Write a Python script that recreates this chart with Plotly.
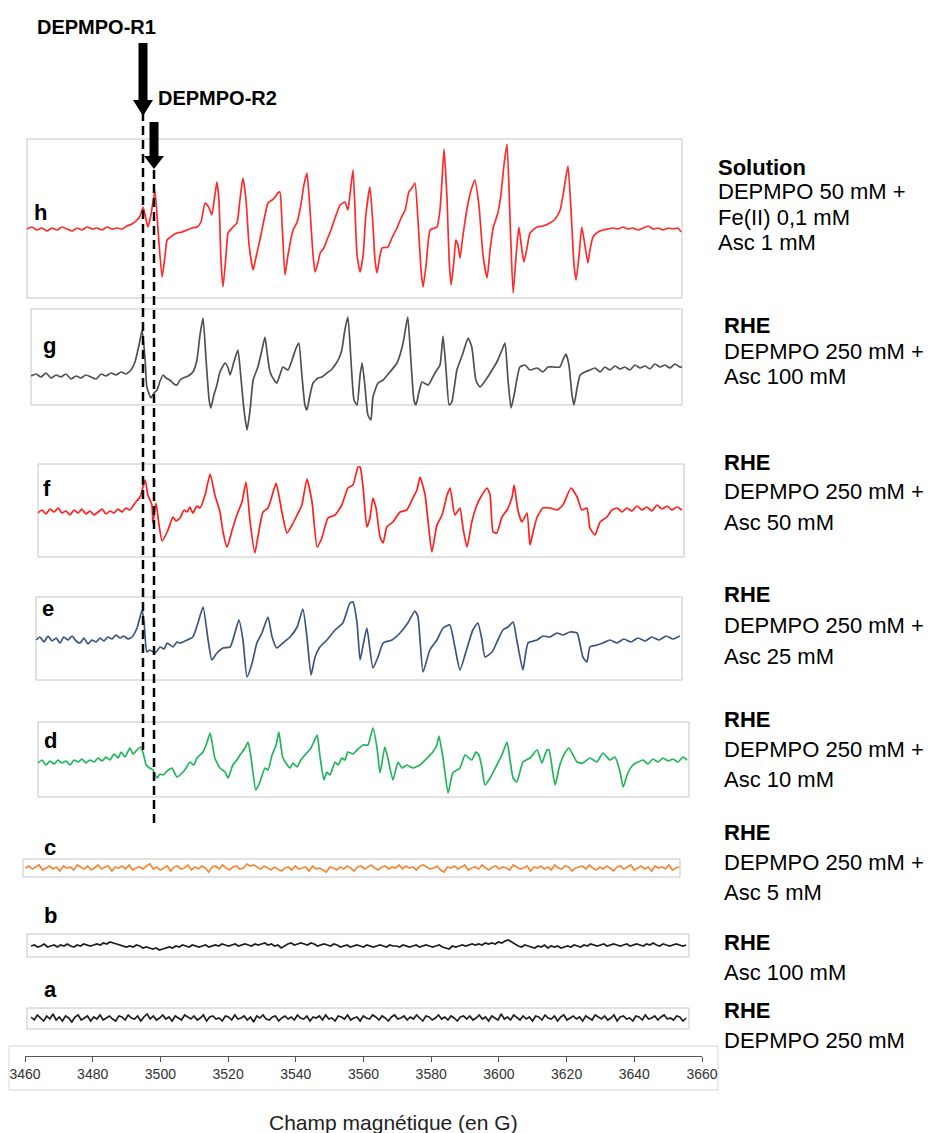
import numpy as np
import plotly.graph_objects as go

# ---- spectra (field in G, signal in arbitrary units) ----
h_field = [3460.3, 3461.8, 3463.2, 3464.7, 3466.2, 3467.7, 3469.2, 3470.6, 3472.1, 3473.6, 3475.1, 3476.5, 3478.0,
           3479.5, 3481.0, 3482.5, 3483.9, 3485.4, 3486.9, 3488.4, 3489.8, 3491.3, 3492.5, 3493.7, 3494.6, 3495.5,
           3496.0, 3496.9, 3498.1, 3499.0, 3500.2, 3501.1, 3501.7, 3503.1, 3504.6, 3506.1, 3507.6, 3509.0, 3510.5,
           3511.7, 3512.9, 3514.1, 3514.9, 3515.8, 3516.4, 3517.0, 3517.6, 3518.2, 3519.1, 3519.7, 3520.9, 3522.3,
           3523.2, 3524.1, 3525.0, 3525.9, 3527.1, 3527.9, 3529.1, 3530.3, 3531.5, 3532.7, 3533.6, 3534.4, 3535.0,
           3535.6, 3536.5, 3537.4, 3538.9, 3540.1, 3541.2, 3542.1, 3543.0, 3543.9, 3544.8, 3545.4, 3546.3, 3546.9,
           3548.0, 3548.9, 3550.1, 3551.3, 3552.8, 3554.2, 3555.1, 3555.7, 3556.6, 3557.2, 3557.8, 3558.7, 3559.6,
           3560.4, 3561.6, 3562.5, 3563.1, 3563.7, 3564.6, 3565.2, 3566.9, 3568.1, 3569.6, 3570.8, 3572.0, 3573.1,
           3574.0, 3574.9, 3575.8, 3576.7, 3577.3, 3578.2, 3579.4, 3581.4, 3582.3, 3582.9, 3583.5, 3584.4, 3585.0,
           3585.6, 3586.4, 3587.0, 3587.6, 3588.2, 3589.1, 3590.6, 3591.5, 3592.6, 3593.8, 3595.0, 3596.2, 3597.1,
           3598.0, 3599.4, 3600.3, 3601.2, 3602.1, 3603.0, 3603.9, 3604.8, 3605.6, 3606.5, 3607.1, 3608.0, 3608.9,
           3611.0, 3612.7, 3614.8, 3616.3, 3617.8, 3618.9, 3620.1, 3621.0, 3621.9, 3622.5, 3623.4, 3624.2, 3625.1,
           3626.0, 3626.6, 3627.5, 3629.0, 3630.5, 3631.9, 3633.4, 3634.9, 3636.4, 3637.8, 3639.3, 3640.8, 3642.3,
           3643.8, 3645.2, 3646.7, 3648.2, 3649.7, 3651.1, 3652.6, 3653.5]
h_signal = [0, 2, -1, 1, -2, 1, -1, 2, 0, -2, 1, -1, 2, 0, 1, -1, 2, 0, 1, 0, 3, 5, 8, 13, 22, 9, 2, 14, 38, -1,
            -48, -26, -11, -7, -4, -3, -1, 1, 2, 7, 26, 21, 14, 34, 47, 29, -31, -58, -26, -4, 1, 6, 29, 51, 29, -16,
            -41, -29, -11, 9, 26, 29, 32, 36, 37, 9, -46, -26, -1, 7, 24, 44, 56, 19, -26, -43, -33, -24, -19, -11,
            -1, 11, 24, 27, 19, 34, 59, 19, -26, -43, -26, 14, 42, 4, -31, -44, -26, -19, -18, -9, 1, 11, 19, 37, 41,
            46, 9, -41, -58, -36, -1, 2, 19, 49, 80, 29, -31, -56, -33, -11, -16, -29, -6, 26, 39, 49, 24, -26, -49,
            -21, 1, 16, 34, 64, 85, 9, -64, -26, 2, -21, -33, -19, -4, 2, 3, 6, 10, 19, 39, 63, 19, -36, -51, -26, 2,
            -16, -34, -21, -8, -3, -1, 0, 1, 0, 2, 0, 1, -1, 1, 3, 0, 1, -1, 1, 0, 1, -3]

g_field = [3461.5, 3463.0, 3464.4, 3465.9, 3467.4, 3468.9, 3470.3, 3471.8, 3473.3, 3474.8, 3476.2, 3477.7, 3479.2,
           3480.7, 3482.2, 3483.6, 3485.1, 3486.6, 3488.1, 3489.5, 3491.0, 3492.2, 3493.4, 3494.3, 3495.2, 3495.7,
           3496.9, 3497.8, 3498.7, 3499.6, 3500.5, 3501.4, 3502.5, 3503.7, 3504.6, 3505.5, 3506.4, 3507.9, 3509.3,
           3510.5, 3511.4, 3512.3, 3513.2, 3514.1, 3514.6, 3515.5, 3516.4, 3517.3, 3518.8, 3519.7, 3520.3, 3521.4,
           3522.6, 3523.5, 3524.4, 3525.3, 3526.2, 3527.1, 3528.5, 3529.7, 3530.6, 3531.2, 3532.1, 3533.3, 3534.1,
           3535.0, 3535.9, 3537.4, 3538.6, 3539.8, 3540.6, 3541.5, 3542.4, 3543.0, 3543.9, 3544.8, 3546.3, 3547.4,
           3548.9, 3550.1, 3551.3, 3552.5, 3553.3, 3554.2, 3555.1, 3556.0, 3556.9, 3557.8, 3558.7, 3559.3, 3560.1,
           3561.0, 3561.9, 3562.5, 3564.0, 3565.5, 3567.5, 3569.6, 3571.4, 3572.3, 3572.8, 3573.7, 3574.6, 3575.2,
           3576.1, 3577.0, 3578.8, 3580.8, 3582.3, 3583.2, 3584.1, 3585.0, 3585.8, 3587.3, 3589.1, 3590.6, 3591.7,
           3592.9, 3594.1, 3596.2, 3597.7, 3599.1, 3600.6, 3601.5, 3602.4, 3603.3, 3604.2, 3605.9, 3607.4, 3608.9,
           3611.0, 3612.7, 3614.2, 3615.7, 3617.7, 3618.6, 3619.5, 3620.4, 3621.3, 3621.9, 3622.8, 3623.7, 3625.1,
           3626.6, 3628.1, 3629.6, 3631.0, 3632.5, 3634.0, 3635.5, 3636.9, 3638.4, 3639.9, 3641.4, 3642.9, 3644.3,
           3645.8, 3647.3, 3648.8, 3650.2, 3651.7, 3653.2, 3653.8]
g_signal = [0, 2, -1, 3, -2, 1, -1, 2, -3, 0, -2, 1, -1, -3, 2, 0, 3, 1, 4, 2, 6, 14, 31, 46, 16, -11, -22, -17, -14,
            -5, 1, -2, -4, -8, -9, -4, -2, 0, 4, 16, 41, 58, 16, -24, -32, -19, -9, 4, 13, 8, 1, 14, 26, -2, -34, -54,
            -34, -4, 9, 26, 39, 24, 4, -4, -7, 1, 9, 6, 16, 28, 33, 1, -29, -34, -19, -7, -2, -1, 3, 6, 11, 18, 26, 46,
            59, 16, -24, -29, 1, 13, -9, -39, -44, -21, -7, -4, 4, 13, 33, 51, 59, 16, -24, -29, -16, -6, -9, 3, 11,
            40, 6, -29, -26, 6, 23, 38, 29, -4, -11, -2, 6, 14, 26, 33, -4, -32, -19, 9, 11, 6, 8, 4, 9, 9, 9, 16, 22,
            11, -19, -29, -12, 1, 4, 6, 8, 4, 9, 6, 10, 7, 9, 6, 11, 8, 10, 7, 12, 9, 11, 8, 12, 9, 9]

f_field = [3463.5, 3464.7, 3465.9, 3467.1, 3468.3, 3469.5, 3470.6, 3471.8, 3473.0, 3474.2, 3475.4, 3476.5, 3477.7,
           3478.9, 3480.1, 3481.3, 3482.5, 3483.6, 3484.8, 3486.0, 3487.2, 3488.4, 3489.5, 3490.7, 3492.2, 3493.7,
           3495.2, 3496.0, 3497.2, 3497.5, 3498.4, 3499.3, 3500.2, 3501.7, 3502.5, 3503.4, 3504.3, 3505.5, 3506.7,
           3507.6, 3508.4, 3509.3, 3510.5, 3511.4, 3512.9, 3514.4, 3515.8, 3517.3, 3518.2, 3519.4, 3520.9, 3522.3,
           3523.8, 3525.0, 3526.2, 3527.6, 3528.5, 3530.0, 3531.5, 3533.0, 3533.9, 3535.6, 3537.1, 3538.6, 3540.1,
           3541.5, 3543.0, 3544.5, 3546.0, 3547.4, 3549.2, 3551.3, 3553.3, 3555.1, 3556.6, 3558.1, 3558.7, 3559.6,
           3560.7, 3561.6, 3562.5, 3563.4, 3564.6, 3565.5, 3566.6, 3568.4, 3570.5, 3572.5, 3574.3, 3575.5, 3576.4,
           3577.9, 3578.8, 3579.9, 3581.4, 3582.9, 3584.4, 3585.3, 3586.7, 3588.2, 3589.1, 3590.3, 3591.7, 3593.2,
           3594.7, 3596.2, 3597.1, 3598.0, 3599.1, 3600.6, 3602.1, 3603.6, 3604.2, 3605.3, 3606.5, 3608.0, 3608.9,
           3609.8, 3611.0, 3612.7, 3614.8, 3616.9, 3618.6, 3621.0, 3622.8, 3624.2, 3625.7, 3626.6, 3628.1, 3629.6,
           3631.6, 3633.1, 3634.6, 3636.1, 3637.5, 3639.0, 3640.5, 3642.0, 3643.4, 3644.9, 3646.4, 3647.9, 3649.4,
           3650.8, 3652.3, 3653.8]
f_signal = [-1, 2, -2, 3, 0, 4, -1, 1, -3, 2, -1, 3, -2, 1, -3, 0, 3, -2, 1, -1, 3, 0, 4, 2, 9, 15, 32, 17, 7, -11,
            9, -13, -29, -20, -13, -5, -9, -6, 2, 0, 5, -1, 6, 4, 17, 38, 17, 0, -20, -35, -18, -3, 10, 30, -10, -41,
            -25, 0, 4, 20, 29, 0, -21, -13, -3, 7, 33, 10, -35, -26, -6, -3, 7, 24, 27, 45, 45, 24, -15, -6, 14, 4,
            -25, -31, -15, -10, 0, 2, 14, 22, 35, 17, -10, -40, -13, -3, 17, 24, -3, 4, -16, -35, -10, 7, 17, 24, 17,
            -20, -21, -5, 2, 15, 27, 2, -10, -1, -33, -20, -5, 4, 4, 2, 7, 24, 15, 2, 4, -16, -23, -10, -5, 2, 4, 0,
            4, 1, 6, 2, 5, 1, 7, 3, 6, 2, 5, 2]

e_field = [3463.0, 3464.1, 3465.3, 3466.5, 3467.7, 3468.9, 3470.0, 3471.2, 3472.4, 3473.6, 3474.8, 3476.0, 3477.1,
           3478.3, 3479.5, 3480.7, 3481.9, 3483.0, 3484.2, 3485.4, 3486.6, 3487.8, 3488.9, 3490.1, 3491.3, 3492.8,
           3494.3, 3494.9, 3495.7, 3496.6, 3498.1, 3499.6, 3500.8, 3501.7, 3503.4, 3504.6, 3505.5, 3507.6, 3509.3,
           3510.8, 3512.3, 3513.8, 3514.9, 3516.4, 3518.2, 3520.3, 3521.7, 3522.9, 3524.1, 3525.3, 3526.8, 3528.2,
           3529.7, 3531.5, 3532.7, 3534.1, 3535.9, 3538.0, 3540.1, 3541.8, 3543.0, 3544.2, 3545.4, 3546.8, 3548.9,
           3551.3, 3553.6, 3555.7, 3556.6, 3557.8, 3558.7, 3559.6, 3560.7, 3562.5, 3564.0, 3565.5, 3568.1, 3570.5,
           3572.8, 3574.9, 3575.8, 3577.3, 3579.3, 3581.4, 3583.2, 3585.2, 3586.7, 3588.2, 3590.3, 3592.0, 3593.5,
           3594.7, 3595.6, 3597.7, 3599.4, 3600.9, 3602.4, 3603.9, 3605.0, 3606.8, 3608.3, 3611.0, 3612.7, 3614.8,
           3616.9, 3618.6, 3620.7, 3622.8, 3624.5, 3625.7, 3626.6, 3628.7, 3630.4, 3632.5, 3634.6, 3636.6, 3638.7,
           3640.8, 3642.9, 3644.9, 3647.0, 3649.1, 3651.1, 3653.2]
e_signal = [0, 3, -2, 4, -1, 2, -3, 3, 0, 4, -1, -3, 2, -4, 0, -2, 2, -1, 3, 1, 5, 2, 4, 1, 3, 12, 30, 17, -12, -10,
            -13, -7, -9, -3, -7, -2, -3, 0, 3, 17, 33, 0, -20, -13, -8, -7, 7, 20, 0, -37, -23, -3, 7, 23, 3, -8, -3,
            3, 13, 31, 3, -35, -17, -7, 0, 10, 17, 37, 38, 17, -20, -5, 12, -28, -17, -3, 0, 7, 17, 29, 23, -32, -10,
            0, 12, 15, -7, -30, -8, 10, 17, 0, -17, -12, 0, 10, 13, 18, 0, -30, -3, 0, 4, 3, 7, 5, 8, 7, -17, -22, -7,
            -5, -3, 0, -3, 1, -2, 2, -1, 3, 0, 4, 1, 4]

d_field = [3463.5, 3464.7, 3465.9, 3467.1, 3468.3, 3469.5, 3470.6, 3471.8, 3473.0, 3474.2, 3475.4, 3476.5, 3477.7,
           3478.9, 3480.1, 3481.3, 3482.5, 3483.6, 3484.8, 3486.0, 3487.2, 3488.1, 3489.2, 3490.7, 3491.6, 3492.8,
           3493.7, 3494.6, 3495.5, 3496.6, 3497.5, 3498.7, 3499.6, 3500.5, 3501.7, 3503.1, 3504.6, 3506.4, 3507.3,
           3508.4, 3509.6, 3510.5, 3512.3, 3513.5, 3514.4, 3515.8, 3517.3, 3518.8, 3519.7, 3521.1, 3522.3, 3523.2,
           3524.7, 3525.6, 3526.5, 3527.9, 3529.1, 3530.6, 3531.5, 3532.7, 3533.9, 3534.7, 3535.9, 3538.0, 3538.9,
           3540.1, 3541.2, 3542.4, 3544.2, 3546.0, 3546.8, 3548.0, 3548.9, 3549.8, 3551.3, 3552.2, 3553.3, 3554.2,
           3555.1, 3556.6, 3557.8, 3559.6, 3561.0, 3561.9, 3562.5, 3563.7, 3564.6, 3566.0, 3566.9, 3568.4, 3569.9,
           3571.1, 3572.5, 3574.3, 3576.4, 3578.5, 3580.2, 3581.4, 3582.0, 3583.2, 3584.7, 3586.1, 3588.2, 3589.7,
           3591.7, 3592.9, 3593.8, 3594.7, 3595.6, 3597.1, 3599.1, 3600.6, 3602.1, 3603.0, 3603.9, 3605.0, 3606.8,
           3608.9, 3611.0, 3612.4, 3613.9, 3614.5, 3616.3, 3617.7, 3619.2, 3620.4, 3621.6, 3622.8, 3624.5, 3626.6,
           3628.7, 3630.4, 3632.5, 3634.0, 3635.5, 3636.4, 3637.8, 3639.3, 3640.8, 3642.3, 3643.7, 3645.2, 3646.7,
           3648.2, 3649.7, 3651.1, 3652.6, 3654.1, 3655.3]
d_signal = [0, 3, -2, 2, -1, 3, 0, 2, -2, 3, 1, 4, 0, 3, 1, 5, 2, 6, 3, 9, 5, 11, 6, 15, 9, 13, 16, 10, -2, -5, -7,
            -15, -11, -12, -8, -5, -14, -9, -5, 1, -2, 5, 11, 21, 30, 5, -5, -9, -15, -2, 3, 8, 15, 21, 5, -27, -19,
            -5, -7, 8, 18, 31, 5, -5, 0, -4, 3, 8, 15, 28, 8, -17, -9, -12, 1, -2, 5, 3, 11, 9, 13, 18, 18, 28, 35,
            15, -10, 16, 5, -17, 1, -5, -2, -5, -2, 5, 11, 18, 27, 5, -30, -10, -5, 8, 3, 11, 8, -5, -22, -15, -2, 8,
            21, 3, -15, -19, 1, 5, 13, 0, 13, 13, -22, -2, 10, 15, 8, 1, 0, 5, 1, 10, 3, 6, -9, -24, -10, -2, 1, 3,
            -1, 4, 1, 5, 2, 4, 1, 6, 3]

# c, b, a: noise only, read at even steps along the field
c_start, c_end = 3459.8, 3653.0
c_signal = [0, 2, -1, 1, 3, -2, 0, 2, -1, 1, -3, 2, 0, 1, -2, 3, 1, -1, 2, -2,
            0, 3, -1, 1, 2, -3, 1, 0, 2, -1, 3, -2, 0, 1, -1, 2, 4, -1, 1, -2,
            0, 2, -3, 1, 2, -1, 0, 3, -2, 1, -1, 2, 0, -4, 1, 2, -1, 3, 0, -2,
            1, 2, -1, 0, 4, 2, 3, 1, -1, 2, 0, -2, 1, -1, -3, 0, 1, -2, 2, -1,
            0, 1, -3, 2, -1, 0, -2, -4, 1, 0, -2, 1, -1, 2, 0, -3, 1, 2, -1, 1,
            3, 0, -2, 1, 2, -1, 1, 0, 3, -1, 2, 0, 1, -2, 2, 3, 1, -1, 0, 2,
            -2, -4, 1, 0, 2, -1, 1, 3, -2, 0, 1, -1, 3, 0, -2, 1, 2, -1, 1, 0,
            -2, 3, 1, -1, 0, 2, -3, 1, 0, 2, -1, 1, -2, 3, 0, -1, 2, 1, -3, 0,
            1, 2, -1, 3, 0, -2, 1, -1, 2, 0, -3, 1, 2, -1, 1, 3, -2, 0, 2, -1,
            1, -3, 2, 0, 1, -1, 3, -2, 0, 1]
b_start, b_end = 3461.5, 3655.0
b_signal = [0, 1, -1, 0, 2, -1, 0, 1, -1, 1, 0, 2, 0, -1, 1, 0, 2, 1, 0, 1,
            2, 1, 3, 2, 4, 3, 2, 1, 0, -1, 0, -1, 1, 0, -2, -1, -2, -3, -2, -4,
            -3, -2, -1, -2, 0, -1, 1, 0, -1, 1, 0, -1, 0, 1, -1, 0, 1, 0, 2, 1,
            0, 1, 2, 0, 1, 2, 1, 0, 2, 1, 2, 3, 1, 2, 0, 1, -2, 0, 2, 3,
            1, 2, 3, 2, 1, 3, 2, 0, 1, 2, 1, 0, 2, 1, -1, 0, 1, -1, 0, 1,
            0, -1, 1, 0, -1, 0, 1, 0, -1, 1, 0, 0, -1, 1, 0, -1, 0, 1, -1, 0,
            1, 0, -1, 0, 1, -1, -2, -3, 0, -1, 0, 1, 0, 1, 2, 1, 2, 1, 3, 2,
            3, 2, 4, 3, 5, 6, 4, 2, 0, -1, 1, 0, -1, -2, 0, -1, 1, -2, 0, -1,
            0, -2, -1, 0, -1, 1, 0, -1, 1, 0, 2, 1, 0, 1, 2, 0, 1, 2, 1, 0,
            1, 2, 0, 1, 2, 1, 0, 2, 1, 3, 1, 0, 2, 1, 0, 1, 2, 1, 0, 1]
a_start, a_end = 3461.5, 3655.0
a_signal = [1, -2, 3, 0, -3, 2, -1, 4, -2, 1, -3, 2, 0, -4, 1, 3, -2, 0, 2, -3,
            1, -1, 3, -2, 0, 2, -1, -3, 2, 1, -2, 3, 0, -1, 2, -3, 1, 4, -1, 2,
            -2, 0, 3, -1, 1, -3, 2, 0, -2, 3, 1, -1, 2, -2, 0, 3, -3, 1, 2, -1,
            0, -3, 2, 1, -2, 3, -1, 0, 2, -2, 1, -4, 2, 0, 3, -1, -2, 1, 2, -3,
            0, 2, -1, 1, -2, 3, 0, -1, 2, -3, 1, 0, 2, -2, 3, -1, 0, -3, 2, 1,
            -1, 3, -2, 0, 1, -3, 2, 0, -1, 3, 1, -2, 2, 0, -3, 1, 3, -1, 0, 2,
            -2, 1, -1, 3, 0, -3, 2, 1, -2, 0, 3, -1, 1, -2, 2, 0, -3, 1, 2, -1,
            2, -2, 0, 3, -1, 1, -3, 2, 0, -2, 4, -1, 1, -2, 3, 0, -2, 2, -1, 1,
            -3, 2, 1, -2, 3, 0, -1, 2, -3, 1, 3, -2, 0, 2, -1, 1, -3, 2, 0, -2,
            3, 1, -1, 2, -2, 0, 3, -3, 1, 2, -1, 0, -3, 2, 1, -2, 3, -1, 0, 2,
            -2, 1, 3, -1, 0, -2, 2, 1, -3, 0]

labels = ["h", "g", "f", "e", "d", "c", "b", "a"]
conditions = [
    ["<b>Solution</b>", "DEPMPO 50 mM +", "Fe(II) 0,1 mM", "Asc 1 mM"],
    ["<b>RHE</b>", "DEPMPO 250 mM +", "Asc 100 mM"],
    ["<b>RHE</b>", "DEPMPO 250 mM +", "Asc 50 mM"],
    ["<b>RHE</b>", "DEPMPO 250 mM +", "Asc 25 mM"],
    ["<b>RHE</b>", "DEPMPO 250 mM +", "Asc 10 mM"],
    ["<b>RHE</b>", "DEPMPO 250 mM +", "Asc 5 mM"],
    ["<b>RHE</b>", "Asc 100 mM"],
    ["<b>RHE</b>", "DEPMPO 250 mM"],
]
field_ticks = list(range(3460, 3661, 20))

# ---- page geometry (pixels) ----
W, H = 944, 1133
FONT = "Arial, Liberation Sans, Helvetica, sans-serif"


def px(x):
    return x / W


def py(y):
    return 1 - y / H


def gauss(x):
    return 3460 + (x - 26) / 3.385


fields = [h_field, g_field, f_field, e_field, d_field,
          np.linspace(c_start, c_end, len(c_signal)),
          np.linspace(b_start, b_end, len(b_signal)),
          np.linspace(a_start, a_end, len(a_signal))]
signals = [h_signal, g_signal, f_signal, e_signal, d_signal, c_signal, b_signal, a_signal]
colors = ["#ff2a2a", "#505050", "#ff1f1f", "#3d5380", "#22b45a", "#f28a3a", "#1e1e1e", "#1e1e1e"]
shapes_kind = ["spline"] * 5 + ["linear"] * 3
# box: x0, x1, y0, y1, baseline
boxes = [(27, 682, 139, 298, 229), (31, 682, 309, 405, 376), (38, 684, 464, 557, 512),
         (36, 682, 597, 680, 640), (38, 689, 722, 797, 763), (23, 680, 859, 877, 868),
         (27, 689, 934, 957, 946), (27, 689, 1008, 1029, 1018)]
label_pos = [(40, 213), (49, 345), (47, 488), (48, 608), (50, 740), (50, 847), (50, 915), (50, 989)]
text_pos = [(716, 167, 25), (722, 325, 26), (722, 462, 30), (722, 594, 31),
            (722, 719, 30), (722, 832, 30), (722, 942, 30), (722, 1010, 30)]

fig = go.Figure()
layout = {}
shapes = []
annotations = []
PAD = 40
for i, (fx, sy, col, box, kind) in enumerate(zip(fields, signals, colors, boxes, shapes_kind), start=1):
    x0, x1, y0, y1, base = box
    sfx = "" if i == 1 else str(i)
    fig.add_trace(go.Scatter(x=list(fx), y=sy, mode="lines", xaxis="x" + sfx, yaxis="y" + sfx,
                             line=dict(color=col, width=1.7, shape=kind, smoothing=0.5),
                             hoverinfo="skip", showlegend=False))
    layout["xaxis" + sfx] = dict(domain=[px(x0), px(x1)], range=[gauss(x0), gauss(x1)],
                                 visible=False, anchor="y" + sfx, fixedrange=True, automargin=False)
    layout["yaxis" + sfx] = dict(domain=[py(y1 + PAD), py(y0 - PAD)],
                                 range=[base - (y1 + PAD), base - (y0 - PAD)],
                                 visible=False, anchor="x" + sfx, fixedrange=True, automargin=False)
    shapes.append(dict(type="rect", xref="paper", yref="paper", x0=px(x0), x1=px(x1),
                       y0=py(y1), y1=py(y0), line=dict(color="#c4c4c4", width=1), layer="below"))

for lab, (lx, ly) in zip(labels, label_pos):
    annotations.append(dict(text="<b>%s</b>" % lab, x=px(lx), y=py(ly), xref="paper", yref="paper",
                            showarrow=False, xanchor="center", yanchor="middle",
                            font=dict(family=FONT, size=22, color="black")))

for lines, (tx, ty, step) in zip(conditions, text_pos):
    for k, t in enumerate(lines):
        annotations.append(dict(text=t, x=px(tx), y=py(ty + k * step), xref="paper", yref="paper",
                                showarrow=False, xanchor="left", yanchor="middle",
                                font=dict(family=FONT, size=22, color="black")))

# dashed guide lines and arrows
shapes.append(dict(type="line", xref="paper", yref="paper", x0=px(143), x1=px(143), y0=py(112), y1=py(750),
                   line=dict(color="black", width=2.5, dash="9px,5px")))
shapes.append(dict(type="line", xref="paper", yref="paper", x0=px(154), x1=px(154), y0=py(170), y1=py(824),
                   line=dict(color="black", width=2.5, dash="9px,5px")))
shapes.append(dict(type="line", xref="paper", yref="paper", x0=px(143), x1=px(143), y0=py(43), y1=py(102),
                   line=dict(color="black", width=9)))
shapes.append(dict(type="path", xref="paper", yref="paper", fillcolor="black", line=dict(width=0),
                   path="M %f,%f L %f,%f L %f,%f Z" % (px(133), py(100), px(153), py(100), px(143), py(116))))
shapes.append(dict(type="line", xref="paper", yref="paper", x0=px(154), x1=px(154), y0=py(122), y1=py(158),
                   line=dict(color="black", width=9)))
shapes.append(dict(type="path", xref="paper", yref="paper", fillcolor="black", line=dict(width=0),
                   path="M %f,%f L %f,%f L %f,%f Z" % (px(144), py(156), px(164), py(156), px(154), py(169))))
annotations.append(dict(text="<b>DEPMPO-R1</b>", x=px(35), y=py(27), xref="paper", yref="paper",
                        showarrow=False, xanchor="left", yanchor="middle",
                        font=dict(family=FONT, size=20, color="black")))
annotations.append(dict(text="<b>DEPMPO-R2</b>", x=px(156), y=py(98), xref="paper", yref="paper",
                        showarrow=False, xanchor="left", yanchor="middle",
                        font=dict(family=FONT, size=20, color="black")))

# bottom field axis
fig.add_trace(go.Scatter(x=[3460, 3660], y=[0, 0], xaxis="x9", yaxis="y9", mode="lines",
                         line=dict(width=0), hoverinfo="skip", showlegend=False))
layout["xaxis9"] = dict(domain=[px(25), px(702)], range=[3460, 3660], anchor="y9", tickvals=field_ticks,
                        showline=True, linecolor="#555", linewidth=1, ticks="outside", ticklen=5,
                        tickcolor="#555", showgrid=False, zeroline=False, automargin=False,
                        tickfont=dict(family=FONT, size=14, color="#333"), fixedrange=True)
layout["yaxis9"] = dict(domain=[py(1056), py(1046)], range=[0, 1], visible=False, anchor="x9",
                        fixedrange=True, automargin=False)
shapes.append(dict(type="rect", xref="paper", yref="paper", x0=px(9), x1=px(718), y0=py(1090), y1=py(1046),
                   line=dict(color="#d8d8d8", width=1), layer="below"))
annotations.append(dict(text="Champ magnétique (en G)", x=px(393), y=py(1122), xref="paper", yref="paper",
                        showarrow=False, xanchor="center", yanchor="middle",
                        font=dict(family=FONT, size=21, color="#222")))

fig.update_layout(width=W, height=H, margin=dict(l=0, r=0, t=0, b=0, pad=0, autoexpand=False),
                  paper_bgcolor="white", plot_bgcolor="rgba(0,0,0,0)",
                  shapes=shapes, annotations=annotations, **layout)
# drop the page's default body margin so the 944x1133 figure fills the window exactly
fig.write_html("out.html", config={"displayModeBar": False},
               post_script="document.body.style.margin='0';"
                           "document.documentElement.style.overflow='hidden';")
